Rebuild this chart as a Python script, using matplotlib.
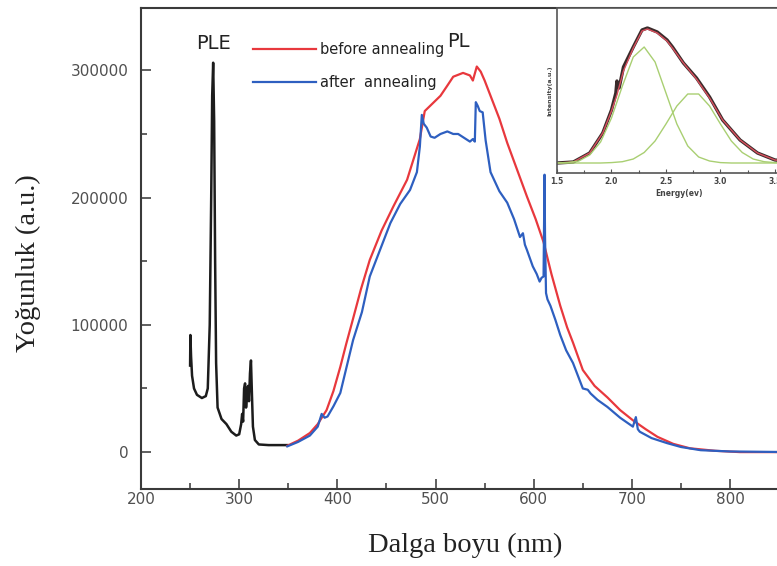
import matplotlib
matplotlib.use("Agg")
import matplotlib.pyplot as plt
from matplotlib.ticker import MultipleLocator

# PLE excitation spectrum
ple_nm = [250, 250.3, 251, 252, 254, 257, 262, 266, 268, 270, 271.5, 272.5, 273.5,
          274.5, 275.5, 276.5, 278, 282, 287, 292, 297, 300, 302, 303, 304, 305,
          306, 307, 308, 309, 310, 311, 312, 313, 314, 316, 320, 330, 340, 349]
ple_val = [68000, 92000, 75000, 60000, 50000, 45000, 42500, 44000, 50000, 100000,
           200000, 280000, 306000, 260000, 150000, 70000, 35000, 26000, 22000,
           16000, 13000, 14000, 22000, 30000, 24000, 50000, 54000, 35000, 44000,
           52000, 40000, 62000, 72000, 45000, 20000, 9500, 6000, 5500, 5500, 5500]

# PL emission, before annealing
red_nm = [349, 360, 372, 380, 389, 396, 403, 409, 415, 424, 433, 445, 457, 471, 484,
          489, 497, 505, 512, 518, 528, 535, 538, 542, 546, 550, 556, 565, 573, 583,
          593, 602, 610, 618, 627, 634, 640, 650, 662, 675, 688, 701, 714, 726, 742,
          759, 785, 810, 861]
red_val = [5000, 9000, 15000, 22000, 33000, 48000, 67000, 85000, 102000, 128000,
           151000, 174000, 193000, 214000, 246000, 268000, 274000, 280000, 288000,
           295000, 298000, 296000, 292000, 303000, 299000, 292000, 280000, 262000,
           243000, 222000, 201000, 183000, 165000, 140000, 115000, 98000, 86000,
           64500, 52000, 43000, 33000, 25000, 18000, 12000, 6500, 3000, 1000, 0, 0]

# PL emission, after annealing
blue_nm = [349, 360, 372, 380, 384, 387, 390, 396, 403, 416, 425, 433, 444, 454, 464,
           474, 481, 484, 486, 488, 491, 495, 499, 505, 512, 518, 523, 529, 535, 538,
           540, 541, 543, 545, 548, 551, 556, 565, 573, 580, 586, 589, 591, 593, 599,
           603, 606, 608, 610, 611, 611.5, 612.5, 614, 617, 622, 627, 633, 640, 650,
           655, 658, 665, 675, 688, 701, 704, 706, 708, 720, 736, 750, 770, 800, 861]
blue_val = [4500, 8000, 13000, 20000, 30000, 27000, 28000, 36000, 46500, 88000,
            110000, 138000, 160000, 180000, 195000, 206000, 220000, 240000, 265000,
            258000, 255000, 248000, 247000, 250000, 252000, 250000, 250000, 247000,
            244000, 246000, 244000, 275000, 272000, 268000, 267000, 245000, 220000,
            205000, 196000, 183000, 169000, 172000, 163000, 159000, 146000, 140000,
            134000, 137000, 138000, 218000, 170000, 125000, 120000, 115000, 104000,
            92000, 80000, 70000, 50000, 49000, 46000, 41000, 35500, 27000, 20000,
            27500, 18000, 16000, 11000, 7000, 4000, 1500, 500, 0]

# inset: measured band and its two-peak fit
ins_e = [1.5, 1.65, 1.8, 1.92, 2.0, 2.04, 2.05, 2.07, 2.11, 2.2, 2.28, 2.33, 2.42,
         2.51, 2.56, 2.66, 2.78, 2.9, 3.02, 3.18, 3.34, 3.5, 3.73]
ins_data = [10, 11, 20, 40, 63, 80, 92, 85, 106, 126, 143, 145, 141, 133, 126, 110,
            95, 76, 53, 33, 20, 13, 11]
fit_e = [1.5, 1.65, 1.8, 1.92, 2.0, 2.05, 2.11, 2.2, 2.28, 2.33, 2.42, 2.51, 2.56,
         2.66, 2.78, 2.9, 3.02, 3.18, 3.34, 3.5, 3.73]
fit_val = [10, 11, 20, 40, 62, 78, 102, 125, 142, 144, 140, 132, 125, 110, 94, 75,
           53, 33, 20, 13, 11]
comp_e = [1.5, 1.6, 1.7, 1.8, 1.9, 2.0, 2.1, 2.2, 2.3, 2.4, 2.5, 2.6, 2.7, 2.8, 2.9,
          3.0, 3.1, 3.2, 3.3, 3.4, 3.5, 3.6, 3.7]
comp1 = [10, 10.5, 12, 18, 31, 55, 87, 116, 126, 111, 80, 49, 27, 16, 12, 10.4, 10,
         10, 10, 10, 10, 10, 10]
comp2 = [10, 10, 10, 10, 10, 10.4, 11.3, 14, 20.5, 32, 49, 67, 79, 79, 67, 49, 32,
         20.5, 14, 11.3, 10.4, 10, 10]

W, H = 777, 566
fig = plt.figure(figsize=(W / 100, H / 100), dpi=100)
ax = fig.add_axes([141 / W, 1 - 489 / H, (790 - 141) / W, (489 - 8) / H])

ax.plot(ple_nm, ple_val, color="#1c1c1c", lw=1.8)
l_red, = ax.plot(red_nm, red_val, color="#e8383d", lw=1.6)
l_blue, = ax.plot(blue_nm, blue_val, color="#2e5fc0", lw=1.6)

ax.set_xlim(200, 861)
ax.set_ylim(-29000, 349000)
ax.xaxis.set_major_locator(MultipleLocator(100))
ax.xaxis.set_minor_locator(MultipleLocator(50))
ax.yaxis.set_major_locator(MultipleLocator(100000))
ax.yaxis.set_minor_locator(MultipleLocator(50000))
ax.tick_params(which="both", direction="in", width=1.2, color="#444444",
               labelcolor="#505050", labelsize=11)
ax.tick_params(which="major", length=7)
ax.tick_params(which="minor", length=4)
ax.tick_params(axis="y", pad=9)
ax.tick_params(axis="x", pad=2)
for s in ax.spines.values():
    s.set_linewidth(1.5)
    s.set_color("#3a3a3a")

serif = ["Liberation Serif", "DejaVu Serif"]
ax.set_xlabel("Dalga boyu (nm)", family=serif, fontsize=20.5, color="#222222",
              labelpad=19)
ax.set_ylabel("Yoğunluk (a.u.)", family=serif, fontsize=20.5, color="#222222",
              labelpad=21)
ax.yaxis.label.set_y(0.47)

ax.text(274, 321000, "PLE", fontsize=14, ha="center", va="center", color="#222222")
ax.text(512, 323000, "PL", fontsize=14, ha="left", va="center", color="#222222")

leg = ax.legend([l_red, l_blue], ["before annealing", "after  annealing"],
                loc="upper left", bbox_to_anchor=(253 / W, 1 - 42 / H),
                bbox_transform=fig.transFigure, frameon=False, fontsize=10.5,
                handlelength=4.3, handletextpad=0.3, labelspacing=1.25,
                borderpad=0, borderaxespad=0)
for t in leg.get_texts():
    t.set_color("#222222")

# inset with the Gaussian deconvolution
ins = fig.add_axes([557 / W, 1 - 173 / H, (800 - 557) / W, (173 - 8) / H])
ins.plot(ins_e, ins_data, color="#3a2b2b", lw=2.4)
ins.plot(fit_e, fit_val, color="#d8505e", lw=1.0)
ins.plot(comp_e, comp1, color="#a9cf72", lw=1.0)
ins.plot(comp_e, comp2, color="#a9cf72", lw=1.0)
ins.set_xlim(1.5, 3.73)
ins.set_ylim(0, 165)
ins.xaxis.set_major_locator(MultipleLocator(0.5))
ins.xaxis.set_minor_locator(MultipleLocator(0.25))
ins.set_yticks([])
ins.tick_params(which="both", direction="in", width=0.8, color="#555555",
                labelcolor="#444444", labelsize=5.5, pad=3)
ins.tick_params(which="major", length=3)
ins.tick_params(which="minor", length=2)
for lab in ins.get_xticklabels():
    lab.set_fontweight("bold")
for s in ins.spines.values():
    s.set_linewidth(1.2)
    s.set_color("#555555")
ins.set_xlabel("Energy(ev)", fontsize=5.5, fontweight="bold", color="#444444",
               labelpad=2)
ins.set_ylabel("Intensity(a.u.)", fontsize=4.5, fontweight="bold", color="#444444",
               labelpad=3)

fig.savefig("out.png", dpi=100)
